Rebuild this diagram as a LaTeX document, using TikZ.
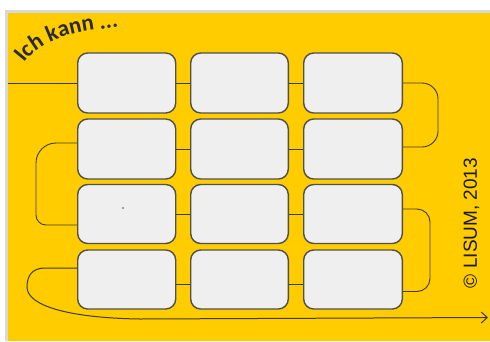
\documentclass[tikz,border=0pt]{standalone}
\usepackage{fontspec}
\newfontfamily\carl{Carlito}
\newfontfamily\libsans{Liberation Sans}
\usetikzlibrary{decorations.text,arrows.meta}
\definecolor{bgyellow}{HTML}{FFCC00}
\definecolor{boxfill}{HTML}{EFEFEF}
\definecolor{boxline}{HTML}{505050}
\definecolor{connline}{HTML}{3F3A28}
\definecolor{inkdark}{HTML}{2A2A2A}
\begin{document}
\begin{tikzpicture}[x=1pt,y=-1pt,
  cell/.style={draw=boxline, fill=boxfill, line width=1.4pt, rounded corners=10pt,
    minimum width=98pt, minimum height=60pt, inner sep=0pt},
  conn/.style={draw=connline, line width=0.9pt}]
\useasboundingbox (0,0) rectangle (490,341);
% background
\fill[white] (0,0) rectangle (490,341);
\fill[black!15] (5,10) rectangle (490,12.5);
\fill[black!15] (5,10) rectangle (7.5,341);
\fill[bgyellow] (7.5,12.5) rectangle (490,341);
% boxes
\foreach \r/\y/\h in {1/83/60,2/149/60,3/214/59,4/279.5/59}{
  \node[cell, minimum height=\h pt] (b\r1) at (126.7,\y) {};
  \node[cell, minimum height=\h pt, minimum width=97.6pt] (b\r2) at (239.5,\y) {};
  \node[cell, minimum height=\h pt, minimum width=98.6pt] (b\r3) at (353,\y) {};
}
% connectors between columns
\foreach \r in {1,2,3}{
  \draw[conn] (b\r1.east) -- (b\r2.west);
  \draw[conn] (b\r2.east) -- (b\r3.west);
}
\draw[conn] ([yshift=-4.5pt]b41.east) -- ([yshift=-4.5pt]b42.west);
\draw[conn] ([yshift=-4.5pt]b42.east) -- ([yshift=-4.5pt]b43.west);
% entry
\coordinate (start) at (7.5,83);
\draw[conn] (start) -- (b11.west);
% right loop row 1 -> row 2
\draw[conn, rounded corners=16pt] (b13.east) -- (438,83) -- (438,147) -- ([yshift=2pt]b23.east);
% left loop row 2 -> row 3
\draw[conn] ([yshift=6pt]b21.west) [rounded corners=20pt] -- (36,143) -- (36,190)
  [rounded corners=10pt] -- (36,225) -- ([yshift=-11pt]b31.west);
% right loop row 3 -> row 4
\draw[conn, rounded corners=13pt] ([yshift=5pt]b33.east) -- (430,209) -- (430,291.5) -- ([yshift=-12pt]b43.east);
% final arrow
\coordinate (arrowend) at (488,317.5);
\draw[conn, line width=1pt, -{Straight Barb[length=6pt,width=11pt]}] ([yshift=11.5pt]b41.west) -- (45,268)
  .. controls (32,268) and (27,276) .. (27,287)
  .. controls (27,306) and (70,318) .. (140,319) -- (arrowend);
% stray dot
\fill[black!70] (123,208) circle (0.8);
% title
\path[decorate, decoration={text along path, text color=inkdark,
  text={|\carl\bfseries\fontsize{23}{23}\selectfont|Ich kann ...}}]
  (24,63) .. controls (40,41) and (76,27) .. (138,27);
% copyright
\node[rotate=90, text=black!90, font=\libsans\fontsize{19}{19}\selectfont, inner sep=0pt] (copy) at (471.5,223) {© LISUM, 2013};
\end{tikzpicture}
\end{document}
